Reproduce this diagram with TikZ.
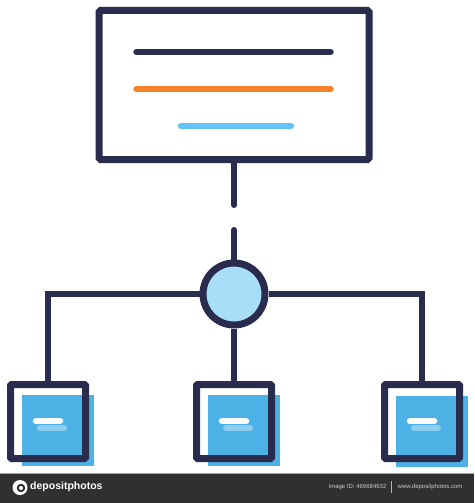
\documentclass[tikz,border=0pt]{standalone}
\usepackage{fontspec}
\setmainfont{Liberation Sans}
\definecolor{navy}{RGB}{42,44,78}
\definecolor{orangeline}{RGB}{245,130,40}
\definecolor{blueline}{RGB}{100,195,245}
\definecolor{hubfill}{RGB}{168,222,248}
\definecolor{boxfill}{RGB}{76,178,230}
\definecolor{lightdash}{RGB}{140,205,240}
\definecolor{barbg}{RGB}{48,48,48}
\definecolor{bartext}{RGB}{205,205,205}
\begin{document}
\begin{tikzpicture}[x=1pt,y=-1pt,
  screen/.style={draw=navy,line width=7pt,rounded corners=1.5pt,minimum width=270pt,minimum height=149pt,inner sep=0pt,fill=white},
  hubnode/.style={circle,draw=navy,line width=7pt,fill=hubfill,minimum size=62pt,inner sep=0pt},
  leaf/.style={draw=navy,line width=7pt,rounded corners=1pt,minimum width=75pt,minimum height=74pt,inner sep=0pt},
  leafshade/.style={fill=boxfill,minimum width=72pt,minimum height=71pt,inner sep=0pt},
  textline/.style={line width=6.5pt,line cap=round},
  wire/.style={draw=navy,line width=6pt},
  dashwhite/.style={draw=white,line width=6.5pt,line cap=round},
  dashlight/.style={draw=lightdash,line width=6pt,line cap=round}
]
\useasboundingbox (0,0) rectangle (474,503);
\fill[white] (0,0) rectangle (474,503);

% top screen
\node[screen] (top) at (234,85) {};
\draw[textline,navy] (136.5,52) -- (330.5,52);
\draw[textline,orangeline] (136.5,89) -- (330.5,89);
\draw[textline,blueline] (181,126) -- (291,126);

% stems with gap
\coordinate (gapA) at (234,205);
\coordinate (gapB) at (234,230);
\draw[wire,line cap=round] (top.south) -- (gapA);

% hub
\node[hubnode] (hub) at (234,294) {};
\draw[wire,line cap=round] (gapB) -- (hub.north);

% leaf shades (behind)
\node[leafshade] (s1) at (58,430.5) {};
\node[leafshade] (s2) at (244,430.5) {};
\node[leafshade] (s3) at (432,431) {};

% leaves
\node[leaf] (b1) at (48,421.5) {};
\node[leaf] (b2) at (234,421.5) {};
\node[leaf] (b3) at (422,421.5) {};

% connectors
\draw[wire] (hub.west) -| (b1.north);
\draw[wire] (hub.east) -| (b3.north);
\draw[wire] (hub.south) -- (b2.north);

% dashes in leaves
\foreach \n/\cx in {b1/48,b2/234,b3/422}{
  \draw[dashlight] (\cx-8,428) -- (\cx+16,428);
  \draw[dashwhite] (\cx-12,421) -- (\cx+12,421);
}

% bottom bar
\fill[barbg] (0,473) rectangle (474,503);
\draw[gray!70,line width=1pt] (0,473.5) -- (474,473.5);
\node[circle,fill=white,minimum size=15pt,inner sep=0pt] (logo) at (20,487.5) {};
\node[circle,fill=barbg,minimum size=8.5pt,inner sep=0pt] (logoin) at (21,488) {};
\node[circle,fill=white,minimum size=4pt,inner sep=0pt] (logodot) at (21,488) {};
\node[anchor=west,text=white,font=\fontsize{10.5}{12}\selectfont\bfseries,inner sep=0pt] (brand) at (30,486.5) {depositphotos};
\node[text=bartext,font=\fontsize{6}{7}\selectfont,inner sep=0pt] (imgid) at (357.5,487) {Image ID: 469684632};
\draw[gray!60,line width=0.5pt] (391,481) -- (391,493);
\node[text=bartext,font=\fontsize{6}{7}\selectfont,inner sep=0pt] (site) at (430,487) {www.depositphotos.com};
\end{tikzpicture}
\end{document}
